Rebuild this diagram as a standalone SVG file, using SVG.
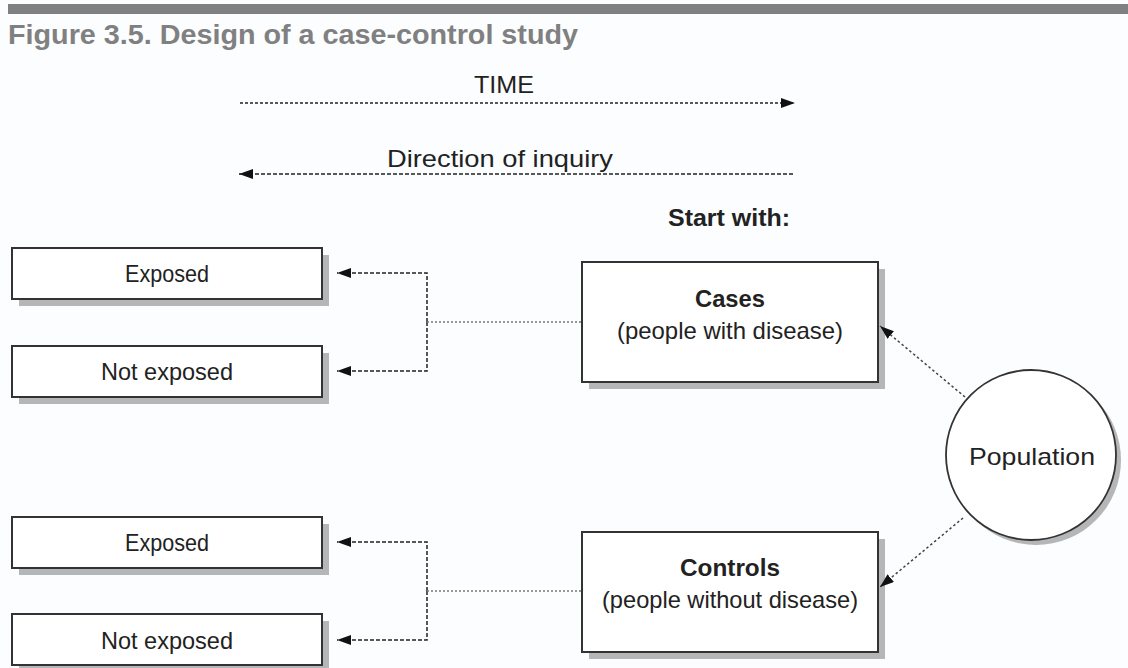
<svg xmlns="http://www.w3.org/2000/svg" width="1128" height="668" viewBox="0 0 1128 668">
<defs>
<marker id="ah" viewBox="0 0 14 10" refX="14" refY="5" markerWidth="14" markerHeight="10" markerUnits="userSpaceOnUse" orient="auto">
<path d="M0,0 L14,5 L0,10 z" fill="#111"/>
</marker>
</defs>
<style>
.box{fill:#fff;stroke:#333;stroke-width:2}
.sh{fill:#b5b6b8}
.lbl{font-family:"Liberation Sans",Arial,sans-serif;font-size:24px;fill:#222;text-anchor:middle}
.bold{font-weight:bold}
.dash{fill:none;stroke:#222;stroke-width:1.5;stroke-dasharray:4 2}
.dot{fill:none;stroke:#777;stroke-width:1.5;stroke-dasharray:2 2}
.diag{fill:none;stroke:#444;stroke-width:1.5;stroke-dasharray:2.5 2.5}
</style>
<rect x="0" y="0" width="1128" height="668" fill="#fbfdfe"/>
<rect x="8" y="4" width="1120" height="10" fill="#808080"/>
<text x="8" y="44" font-family="Liberation Sans,Arial,sans-serif" font-size="28" font-weight="bold" fill="#808080" textLength="570" lengthAdjust="spacingAndGlyphs">Figure 3.5. Design of a case-control study</text>

<g id="time">
<text class="lbl" x="504" y="93" font-size="26" textLength="60" lengthAdjust="spacingAndGlyphs">TIME</text>
</g>
<g id="inquiry">
<text class="lbl" x="500" y="167" font-size="27" textLength="226" lengthAdjust="spacingAndGlyphs">Direction of inquiry</text>
</g>
<g id="start">
<text class="lbl bold" x="729" y="226" font-size="24" textLength="122" lengthAdjust="spacingAndGlyphs">Start with:</text>
</g>

<g id="exposed1">
<rect class="sh" x="19" y="255" width="310" height="51"/>
<rect class="box" x="12" y="248" width="310" height="51"/>
<text class="lbl" x="167" y="282" textLength="84" lengthAdjust="spacingAndGlyphs">Exposed</text>
</g>
<g id="notexposed1">
<rect class="sh" x="19" y="353" width="310" height="51"/>
<rect class="box" x="12" y="346" width="310" height="51"/>
<text class="lbl" x="167" y="380" textLength="132" lengthAdjust="spacingAndGlyphs">Not exposed</text>
</g>
<g id="cases">
<rect class="sh" x="589" y="269" width="296" height="120"/>
<rect class="box" x="582" y="262" width="296" height="120"/>
<text class="lbl bold" x="730" y="307" font-size="24" textLength="70" lengthAdjust="spacingAndGlyphs">Cases</text>
<text class="lbl" x="730" y="339" textLength="226" lengthAdjust="spacingAndGlyphs">(people with disease)</text>
</g>
<g id="population">
<circle cx="1036" cy="460" r="85" fill="#b5b6b8"/>
<circle cx="1031" cy="455" r="85" fill="#fff" stroke="#333" stroke-width="1.8"/>
<text class="lbl" x="1032" y="465" font-size="28" textLength="126" lengthAdjust="spacingAndGlyphs">Population</text>
</g>
<g id="exposed2">
<rect class="sh" x="19" y="524" width="310" height="51"/>
<rect class="box" x="12" y="517" width="310" height="51"/>
<text class="lbl" x="167" y="551" textLength="84" lengthAdjust="spacingAndGlyphs">Exposed</text>
</g>
<g id="notexposed2">
<rect class="sh" x="19" y="621" width="310" height="51"/>
<rect class="box" x="12" y="614" width="310" height="51"/>
<text class="lbl" x="167" y="649" textLength="132" lengthAdjust="spacingAndGlyphs">Not exposed</text>
</g>
<g id="controls">
<rect class="sh" x="589" y="539" width="296" height="120"/>
<rect class="box" x="582" y="532" width="296" height="120"/>
<text class="lbl bold" x="730" y="576" font-size="24" textLength="100" lengthAdjust="spacingAndGlyphs">Controls</text>
<text class="lbl" x="730" y="608" textLength="256" lengthAdjust="spacingAndGlyphs">(people without disease)</text>
</g>

<g id="connectors">
<line x1="240" y1="103" x2="795" y2="103" stroke="#222" stroke-width="1.3" stroke-dasharray="3 2" marker-end="url(#ah)"/>
<line x1="793" y1="174" x2="239" y2="174" stroke="#222" stroke-width="1.3" stroke-dasharray="4 2" marker-end="url(#ah)"/>
<path class="dash" d="M427,322 L427,273 L337,273" marker-end="url(#ah)"/>
<path class="dash" d="M427,322 L427,371 L337,371" marker-end="url(#ah)"/>
<line class="dot" x1="427" y1="322" x2="582" y2="322"/>
<path class="dash" d="M427,591 L427,542 L337,542" marker-end="url(#ah)"/>
<path class="dash" d="M427,591 L427,640 L337,640" marker-end="url(#ah)"/>
<line class="dot" x1="427" y1="591" x2="582" y2="591"/>
<line class="diag" x1="965" y1="397" x2="880" y2="326" marker-end="url(#ah)"/>
<line class="diag" x1="963" y1="518" x2="880" y2="587" marker-end="url(#ah)"/>
</g>
</svg>
